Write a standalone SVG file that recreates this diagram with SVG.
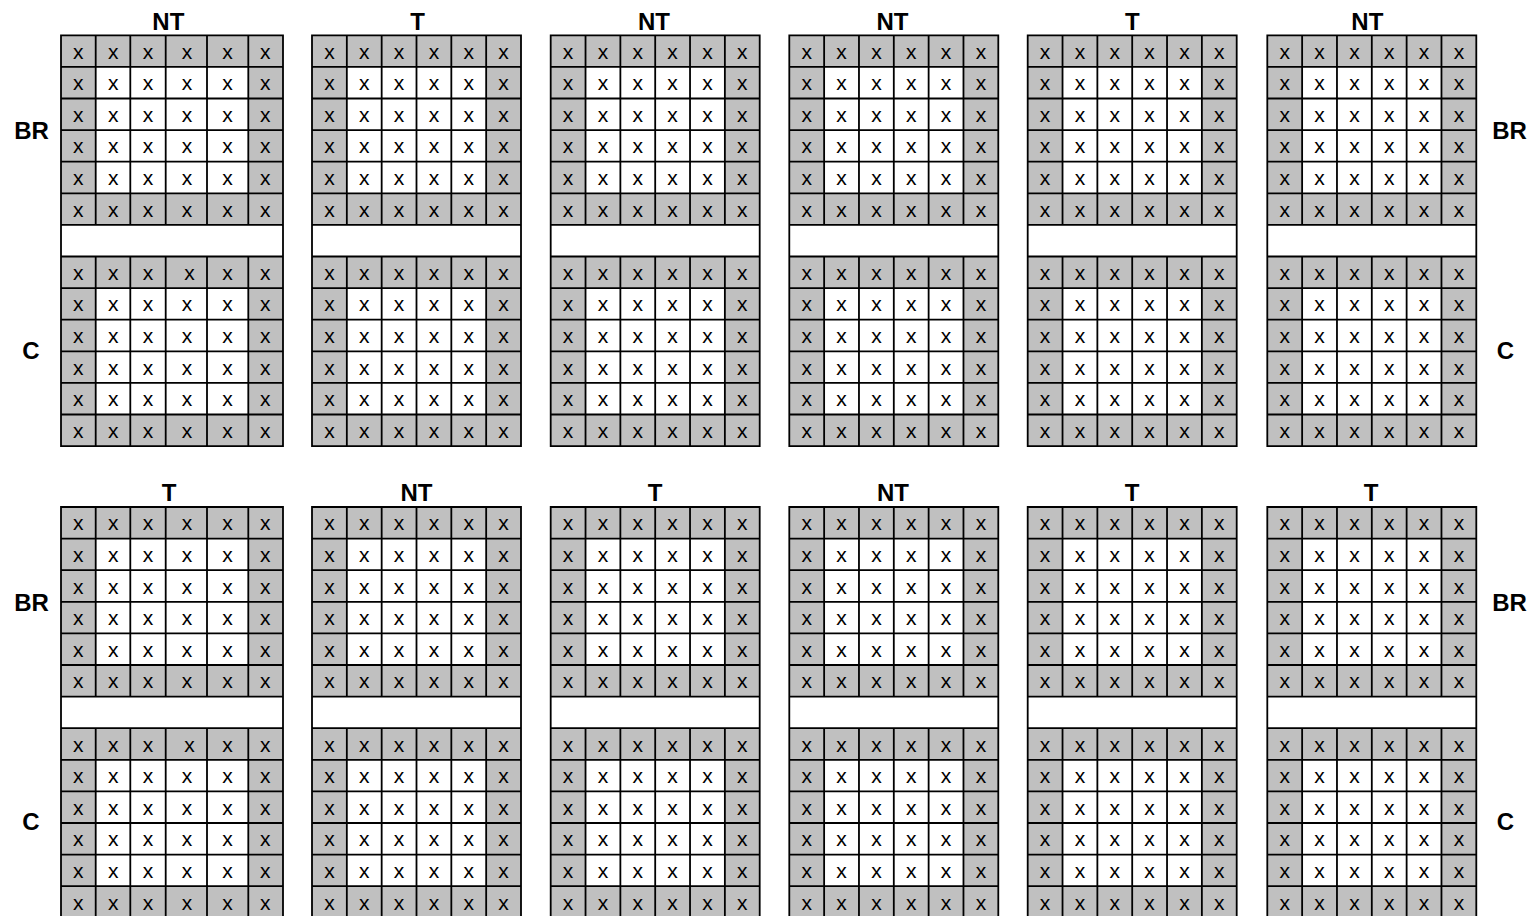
<svg xmlns="http://www.w3.org/2000/svg" xmlns:xlink="http://www.w3.org/1999/xlink" width="1531" height="916" viewBox="0 0 1531 916">
<style>
.g{fill:#c0c0c0}
.w{fill:#ffffff}
.ln{fill:none;stroke:#000;stroke-width:1.8;stroke-linecap:square}
.c{font-family:"Liberation Sans",Arial,sans-serif;font-size:21px;text-anchor:middle;fill:#000}
.t{font-family:"Liberation Sans",Arial,sans-serif;font-size:24px;font-weight:bold;text-anchor:middle;fill:#000}
</style>
<defs>
<g id="grid-std">
<rect class="g" x="0" y="0" width="209" height="189.6"/>
<rect class="w" x="34.83" y="31.6" width="139.33" height="126.4"/>
<rect class="w" x="0" y="189.6" width="209" height="31.6"/>
<rect class="g" x="0" y="221.2" width="209" height="189.6"/>
<rect class="w" x="34.83" y="252.8" width="139.33" height="126.4"/>
<path class="ln" d="M0 0H209M0 31.6H209M0 63.2H209M0 94.8H209M0 126.4H209M0 158H209M0 189.6H209M0 221.2H209M0 252.8H209M0 284.4H209M0 316H209M0 347.6H209M0 379.2H209M0 410.8H209M0 0V410.8M209 0V410.8M34.83 0V189.6M69.67 0V189.6M104.5 0V189.6M139.33 0V189.6M174.17 0V189.6M34.83 221.2V410.8M69.67 221.2V410.8M104.5 221.2V410.8M139.33 221.2V410.8M174.17 221.2V410.8"/>
</g>
<g id="grid-wide">
<rect class="g" x="0" y="0" width="222" height="189.6"/>
<rect class="w" x="34.7" y="31.6" width="152.6" height="126.4"/>
<rect class="w" x="0" y="189.6" width="222" height="31.6"/>
<rect class="g" x="0" y="221.2" width="222" height="189.6"/>
<rect class="w" x="34.7" y="252.8" width="152.6" height="126.4"/>
<path class="ln" d="M0 0H222M0 31.6H222M0 63.2H222M0 94.8H222M0 126.4H222M0 158H222M0 189.6H222M0 221.2H222M0 252.8H222M0 284.4H222M0 316H222M0 347.6H222M0 379.2H222M0 410.8H222M0 0V410.8M222 0V410.8M34.7 0V189.6M69.3 0V189.6M104.7 0V189.6M146 0V189.6M187.3 0V189.6M34.7 221.2V410.8M69.3 221.2V410.8M104.7 221.2V410.8M146 221.2V410.8M187.3 221.2V410.8"/>
</g>
</defs>
<rect x="0" y="0" width="1531" height="916" fill="#fff"/>

<g id="panel-1" transform="translate(61,35.3)">
<use xlink:href="#grid-wide" href="#grid-wide"/>
<text class="t" x="107.3" y="-5.8">NT</text>
<text class="c" x="17.3 52.2 87 126 166.6 204.2" y="23.4">xxxxxx</text>
<text class="c" x="17.3 52.2 87 126 166.6 204.2" y="55">xxxxxx</text>
<text class="c" x="17.3 52.2 87 126 166.6 204.2" y="86.6">xxxxxx</text>
<text class="c" x="17.3 52.2 87 126 166.6 204.2" y="118.2">xxxxxx</text>
<text class="c" x="17.3 52.2 87 126 166.6 204.2" y="149.8">xxxxxx</text>
<text class="c" x="17.3 52.2 87 126 166.6 204.2" y="181.4">xxxxxx</text>
<text class="c" x="17.3 52.2 87 128.5 166.6 204.2" y="244.6">xxxxxx</text>
<text class="c" x="17.3 52.2 87 126 166.6 204.2" y="276.2">xxxxxx</text>
<text class="c" x="17.3 52.2 87 126 166.6 204.2" y="307.8">xxxxxx</text>
<text class="c" x="17.3 52.2 87 126 166.6 204.2" y="339.4">xxxxxx</text>
<text class="c" x="17.3 52.2 87 126 166.6 204.2" y="371">xxxxxx</text>
<text class="c" x="17.3 52.2 87 126 166.6 204.2" y="402.6">xxxxxx</text>
</g>

<g id="panel-2" transform="translate(312,35.3)">
<use xlink:href="#grid-std" href="#grid-std"/>
<text class="t" x="105.7" y="-5.8">T</text>
<text class="c" x="17.4 52.3 87.1 121.9 156.8 191.6" y="23.4">xxxxxx</text>
<text class="c" x="17.4 52.3 87.1 121.9 156.8 191.6" y="55">xxxxxx</text>
<text class="c" x="17.4 52.3 87.1 121.9 156.8 191.6" y="86.6">xxxxxx</text>
<text class="c" x="17.4 52.3 87.1 121.9 156.8 191.6" y="118.2">xxxxxx</text>
<text class="c" x="17.4 52.3 87.1 121.9 156.8 191.6" y="149.8">xxxxxx</text>
<text class="c" x="17.4 52.3 87.1 121.9 156.8 191.6" y="181.4">xxxxxx</text>
<text class="c" x="17.4 52.3 87.1 121.9 156.8 191.6" y="244.6">xxxxxx</text>
<text class="c" x="17.4 52.3 87.1 121.9 156.8 191.6" y="276.2">xxxxxx</text>
<text class="c" x="17.4 52.3 87.1 121.9 156.8 191.6" y="307.8">xxxxxx</text>
<text class="c" x="17.4 52.3 87.1 121.9 156.8 191.6" y="339.4">xxxxxx</text>
<text class="c" x="17.4 52.3 87.1 121.9 156.8 191.6" y="371">xxxxxx</text>
<text class="c" x="17.4 52.3 87.1 121.9 156.8 191.6" y="402.6">xxxxxx</text>
</g>

<g id="panel-3" transform="translate(550.7,35.3)">
<use xlink:href="#grid-std" href="#grid-std"/>
<text class="t" x="103.3" y="-5.8">NT</text>
<text class="c" x="17.4 52.3 87.1 121.9 156.8 191.6" y="23.4">xxxxxx</text>
<text class="c" x="17.4 52.3 87.1 121.9 156.8 191.6" y="55">xxxxxx</text>
<text class="c" x="17.4 52.3 87.1 121.9 156.8 191.6" y="86.6">xxxxxx</text>
<text class="c" x="17.4 52.3 87.1 121.9 156.8 191.6" y="118.2">xxxxxx</text>
<text class="c" x="17.4 52.3 87.1 121.9 156.8 191.6" y="149.8">xxxxxx</text>
<text class="c" x="17.4 52.3 87.1 121.9 156.8 191.6" y="181.4">xxxxxx</text>
<text class="c" x="17.4 52.3 87.1 121.9 156.8 191.6" y="244.6">xxxxxx</text>
<text class="c" x="17.4 52.3 87.1 121.9 156.8 191.6" y="276.2">xxxxxx</text>
<text class="c" x="17.4 52.3 87.1 121.9 156.8 191.6" y="307.8">xxxxxx</text>
<text class="c" x="17.4 52.3 87.1 121.9 156.8 191.6" y="339.4">xxxxxx</text>
<text class="c" x="17.4 52.3 87.1 121.9 156.8 191.6" y="371">xxxxxx</text>
<text class="c" x="17.4 52.3 87.1 121.9 156.8 191.6" y="402.6">xxxxxx</text>
</g>

<g id="panel-4" transform="translate(789.3,35.3)">
<use xlink:href="#grid-std" href="#grid-std"/>
<text class="t" x="103.2" y="-5.8">NT</text>
<text class="c" x="17.4 52.3 87.1 121.9 156.8 191.6" y="23.4">xxxxxx</text>
<text class="c" x="17.4 52.3 87.1 121.9 156.8 191.6" y="55">xxxxxx</text>
<text class="c" x="17.4 52.3 87.1 121.9 156.8 191.6" y="86.6">xxxxxx</text>
<text class="c" x="17.4 52.3 87.1 121.9 156.8 191.6" y="118.2">xxxxxx</text>
<text class="c" x="17.4 52.3 87.1 121.9 156.8 191.6" y="149.8">xxxxxx</text>
<text class="c" x="17.4 52.3 87.1 121.9 156.8 191.6" y="181.4">xxxxxx</text>
<text class="c" x="17.4 52.3 87.1 121.9 156.8 191.6" y="244.6">xxxxxx</text>
<text class="c" x="17.4 52.3 87.1 121.9 156.8 191.6" y="276.2">xxxxxx</text>
<text class="c" x="17.4 52.3 87.1 121.9 156.8 191.6" y="307.8">xxxxxx</text>
<text class="c" x="17.4 52.3 87.1 121.9 156.8 191.6" y="339.4">xxxxxx</text>
<text class="c" x="17.4 52.3 87.1 121.9 156.8 191.6" y="371">xxxxxx</text>
<text class="c" x="17.4 52.3 87.1 121.9 156.8 191.6" y="402.6">xxxxxx</text>
</g>

<g id="panel-5" transform="translate(1027.7,35.3)">
<use xlink:href="#grid-std" href="#grid-std"/>
<text class="t" x="104.6" y="-5.8">T</text>
<text class="c" x="17.4 52.3 87.1 121.9 156.8 191.6" y="23.4">xxxxxx</text>
<text class="c" x="17.4 52.3 87.1 121.9 156.8 191.6" y="55">xxxxxx</text>
<text class="c" x="17.4 52.3 87.1 121.9 156.8 191.6" y="86.6">xxxxxx</text>
<text class="c" x="17.4 52.3 87.1 121.9 156.8 191.6" y="118.2">xxxxxx</text>
<text class="c" x="17.4 52.3 87.1 121.9 156.8 191.6" y="149.8">xxxxxx</text>
<text class="c" x="17.4 52.3 87.1 121.9 156.8 191.6" y="181.4">xxxxxx</text>
<text class="c" x="17.4 52.3 87.1 121.9 156.8 191.6" y="244.6">xxxxxx</text>
<text class="c" x="17.4 52.3 87.1 121.9 156.8 191.6" y="276.2">xxxxxx</text>
<text class="c" x="17.4 52.3 87.1 121.9 156.8 191.6" y="307.8">xxxxxx</text>
<text class="c" x="17.4 52.3 87.1 121.9 156.8 191.6" y="339.4">xxxxxx</text>
<text class="c" x="17.4 52.3 87.1 121.9 156.8 191.6" y="371">xxxxxx</text>
<text class="c" x="17.4 52.3 87.1 121.9 156.8 191.6" y="402.6">xxxxxx</text>
</g>

<g id="panel-6" transform="translate(1267.3,35.3)">
<use xlink:href="#grid-std" href="#grid-std"/>
<text class="t" x="100" y="-5.8">NT</text>
<text class="c" x="17.4 52.3 87.1 121.9 156.8 191.6" y="23.4">xxxxxx</text>
<text class="c" x="17.4 52.3 87.1 121.9 156.8 191.6" y="55">xxxxxx</text>
<text class="c" x="17.4 52.3 87.1 121.9 156.8 191.6" y="86.6">xxxxxx</text>
<text class="c" x="17.4 52.3 87.1 121.9 156.8 191.6" y="118.2">xxxxxx</text>
<text class="c" x="17.4 52.3 87.1 121.9 156.8 191.6" y="149.8">xxxxxx</text>
<text class="c" x="17.4 52.3 87.1 121.9 156.8 191.6" y="181.4">xxxxxx</text>
<text class="c" x="17.4 52.3 87.1 121.9 156.8 191.6" y="244.6">xxxxxx</text>
<text class="c" x="17.4 52.3 87.1 121.9 156.8 191.6" y="276.2">xxxxxx</text>
<text class="c" x="17.4 52.3 87.1 121.9 156.8 191.6" y="307.8">xxxxxx</text>
<text class="c" x="17.4 52.3 87.1 121.9 156.8 191.6" y="339.4">xxxxxx</text>
<text class="c" x="17.4 52.3 87.1 121.9 156.8 191.6" y="371">xxxxxx</text>
<text class="c" x="17.4 52.3 87.1 121.9 156.8 191.6" y="402.6">xxxxxx</text>
</g>

<g id="panel-7" transform="translate(61,507)">
<use xlink:href="#grid-wide" href="#grid-wide"/>
<text class="t" x="108.2" y="-6.5">T</text>
<text class="c" x="17.3 52.2 87 126 166.6 204.2" y="23.4">xxxxxx</text>
<text class="c" x="17.3 52.2 87 126 166.6 204.2" y="55">xxxxxx</text>
<text class="c" x="17.3 52.2 87 126 166.6 204.2" y="86.6">xxxxxx</text>
<text class="c" x="17.3 52.2 87 126 166.6 204.2" y="118.2">xxxxxx</text>
<text class="c" x="17.3 52.2 87 126 166.6 204.2" y="149.8">xxxxxx</text>
<text class="c" x="17.3 52.2 87 126 166.6 204.2" y="181.4">xxxxxx</text>
<text class="c" x="17.3 52.2 87 128.5 166.6 204.2" y="244.6">xxxxxx</text>
<text class="c" x="17.3 52.2 87 126 166.6 204.2" y="276.2">xxxxxx</text>
<text class="c" x="17.3 52.2 87 126 166.6 204.2" y="307.8">xxxxxx</text>
<text class="c" x="17.3 52.2 87 126 166.6 204.2" y="339.4">xxxxxx</text>
<text class="c" x="17.3 52.2 87 126 166.6 204.2" y="371">xxxxxx</text>
<text class="c" x="17.3 52.2 87 126 166.6 204.2" y="402.6">xxxxxx</text>
</g>

<g id="panel-8" transform="translate(312,507)">
<use xlink:href="#grid-std" href="#grid-std"/>
<text class="t" x="104.5" y="-6.5">NT</text>
<text class="c" x="17.4 52.3 87.1 121.9 156.8 191.6" y="23.4">xxxxxx</text>
<text class="c" x="17.4 52.3 87.1 121.9 156.8 191.6" y="55">xxxxxx</text>
<text class="c" x="17.4 52.3 87.1 121.9 156.8 191.6" y="86.6">xxxxxx</text>
<text class="c" x="17.4 52.3 87.1 121.9 156.8 191.6" y="118.2">xxxxxx</text>
<text class="c" x="17.4 52.3 87.1 121.9 156.8 191.6" y="149.8">xxxxxx</text>
<text class="c" x="17.4 52.3 87.1 121.9 156.8 191.6" y="181.4">xxxxxx</text>
<text class="c" x="17.4 52.3 87.1 121.9 156.8 191.6" y="244.6">xxxxxx</text>
<text class="c" x="17.4 52.3 87.1 121.9 156.8 191.6" y="276.2">xxxxxx</text>
<text class="c" x="17.4 52.3 87.1 121.9 156.8 191.6" y="307.8">xxxxxx</text>
<text class="c" x="17.4 52.3 87.1 121.9 156.8 191.6" y="339.4">xxxxxx</text>
<text class="c" x="17.4 52.3 87.1 121.9 156.8 191.6" y="371">xxxxxx</text>
<text class="c" x="17.4 52.3 87.1 121.9 156.8 191.6" y="402.6">xxxxxx</text>
</g>

<g id="panel-9" transform="translate(550.7,507)">
<use xlink:href="#grid-std" href="#grid-std"/>
<text class="t" x="104.5" y="-6.5">T</text>
<text class="c" x="17.4 52.3 87.1 121.9 156.8 191.6" y="23.4">xxxxxx</text>
<text class="c" x="17.4 52.3 87.1 121.9 156.8 191.6" y="55">xxxxxx</text>
<text class="c" x="17.4 52.3 87.1 121.9 156.8 191.6" y="86.6">xxxxxx</text>
<text class="c" x="17.4 52.3 87.1 121.9 156.8 191.6" y="118.2">xxxxxx</text>
<text class="c" x="17.4 52.3 87.1 121.9 156.8 191.6" y="149.8">xxxxxx</text>
<text class="c" x="17.4 52.3 87.1 121.9 156.8 191.6" y="181.4">xxxxxx</text>
<text class="c" x="17.4 52.3 87.1 121.9 156.8 191.6" y="244.6">xxxxxx</text>
<text class="c" x="17.4 52.3 87.1 121.9 156.8 191.6" y="276.2">xxxxxx</text>
<text class="c" x="17.4 52.3 87.1 121.9 156.8 191.6" y="307.8">xxxxxx</text>
<text class="c" x="17.4 52.3 87.1 121.9 156.8 191.6" y="339.4">xxxxxx</text>
<text class="c" x="17.4 52.3 87.1 121.9 156.8 191.6" y="371">xxxxxx</text>
<text class="c" x="17.4 52.3 87.1 121.9 156.8 191.6" y="402.6">xxxxxx</text>
</g>

<g id="panel-10" transform="translate(789.3,507)">
<use xlink:href="#grid-std" href="#grid-std"/>
<text class="t" x="103.7" y="-6.5">NT</text>
<text class="c" x="17.4 52.3 87.1 121.9 156.8 191.6" y="23.4">xxxxxx</text>
<text class="c" x="17.4 52.3 87.1 121.9 156.8 191.6" y="55">xxxxxx</text>
<text class="c" x="17.4 52.3 87.1 121.9 156.8 191.6" y="86.6">xxxxxx</text>
<text class="c" x="17.4 52.3 87.1 121.9 156.8 191.6" y="118.2">xxxxxx</text>
<text class="c" x="17.4 52.3 87.1 121.9 156.8 191.6" y="149.8">xxxxxx</text>
<text class="c" x="17.4 52.3 87.1 121.9 156.8 191.6" y="181.4">xxxxxx</text>
<text class="c" x="17.4 52.3 87.1 121.9 156.8 191.6" y="244.6">xxxxxx</text>
<text class="c" x="17.4 52.3 87.1 121.9 156.8 191.6" y="276.2">xxxxxx</text>
<text class="c" x="17.4 52.3 87.1 121.9 156.8 191.6" y="307.8">xxxxxx</text>
<text class="c" x="17.4 52.3 87.1 121.9 156.8 191.6" y="339.4">xxxxxx</text>
<text class="c" x="17.4 52.3 87.1 121.9 156.8 191.6" y="371">xxxxxx</text>
<text class="c" x="17.4 52.3 87.1 121.9 156.8 191.6" y="402.6">xxxxxx</text>
</g>

<g id="panel-11" transform="translate(1027.7,507)">
<use xlink:href="#grid-std" href="#grid-std"/>
<text class="t" x="104.5" y="-6.5">T</text>
<text class="c" x="17.4 52.3 87.1 121.9 156.8 191.6" y="23.4">xxxxxx</text>
<text class="c" x="17.4 52.3 87.1 121.9 156.8 191.6" y="55">xxxxxx</text>
<text class="c" x="17.4 52.3 87.1 121.9 156.8 191.6" y="86.6">xxxxxx</text>
<text class="c" x="17.4 52.3 87.1 121.9 156.8 191.6" y="118.2">xxxxxx</text>
<text class="c" x="17.4 52.3 87.1 121.9 156.8 191.6" y="149.8">xxxxxx</text>
<text class="c" x="17.4 52.3 87.1 121.9 156.8 191.6" y="181.4">xxxxxx</text>
<text class="c" x="17.4 52.3 87.1 121.9 156.8 191.6" y="244.6">xxxxxx</text>
<text class="c" x="17.4 52.3 87.1 121.9 156.8 191.6" y="276.2">xxxxxx</text>
<text class="c" x="17.4 52.3 87.1 121.9 156.8 191.6" y="307.8">xxxxxx</text>
<text class="c" x="17.4 52.3 87.1 121.9 156.8 191.6" y="339.4">xxxxxx</text>
<text class="c" x="17.4 52.3 87.1 121.9 156.8 191.6" y="371">xxxxxx</text>
<text class="c" x="17.4 52.3 87.1 121.9 156.8 191.6" y="402.6">xxxxxx</text>
</g>

<g id="panel-12" transform="translate(1267.3,507)">
<use xlink:href="#grid-std" href="#grid-std"/>
<text class="t" x="103.7" y="-6.5">T</text>
<text class="c" x="17.4 52.3 87.1 121.9 156.8 191.6" y="23.4">xxxxxx</text>
<text class="c" x="17.4 52.3 87.1 121.9 156.8 191.6" y="55">xxxxxx</text>
<text class="c" x="17.4 52.3 87.1 121.9 156.8 191.6" y="86.6">xxxxxx</text>
<text class="c" x="17.4 52.3 87.1 121.9 156.8 191.6" y="118.2">xxxxxx</text>
<text class="c" x="17.4 52.3 87.1 121.9 156.8 191.6" y="149.8">xxxxxx</text>
<text class="c" x="17.4 52.3 87.1 121.9 156.8 191.6" y="181.4">xxxxxx</text>
<text class="c" x="17.4 52.3 87.1 121.9 156.8 191.6" y="244.6">xxxxxx</text>
<text class="c" x="17.4 52.3 87.1 121.9 156.8 191.6" y="276.2">xxxxxx</text>
<text class="c" x="17.4 52.3 87.1 121.9 156.8 191.6" y="307.8">xxxxxx</text>
<text class="c" x="17.4 52.3 87.1 121.9 156.8 191.6" y="339.4">xxxxxx</text>
<text class="c" x="17.4 52.3 87.1 121.9 156.8 191.6" y="371">xxxxxx</text>
<text class="c" x="17.4 52.3 87.1 121.9 156.8 191.6" y="402.6">xxxxxx</text>
</g>

<g id="row-labels">
<text class="t" x="31.5" y="139">BR</text>
<text class="t" x="31" y="358.5">C</text>
<text class="t" x="1509.5" y="138.5">BR</text>
<text class="t" x="1505.5" y="358.5">C</text>
<text class="t" x="31.5" y="610.5">BR</text>
<text class="t" x="31" y="830">C</text>
<text class="t" x="1509.5" y="610.5">BR</text>
<text class="t" x="1505.5" y="830">C</text>
</g>
<g id="connectors"/>
</svg>
